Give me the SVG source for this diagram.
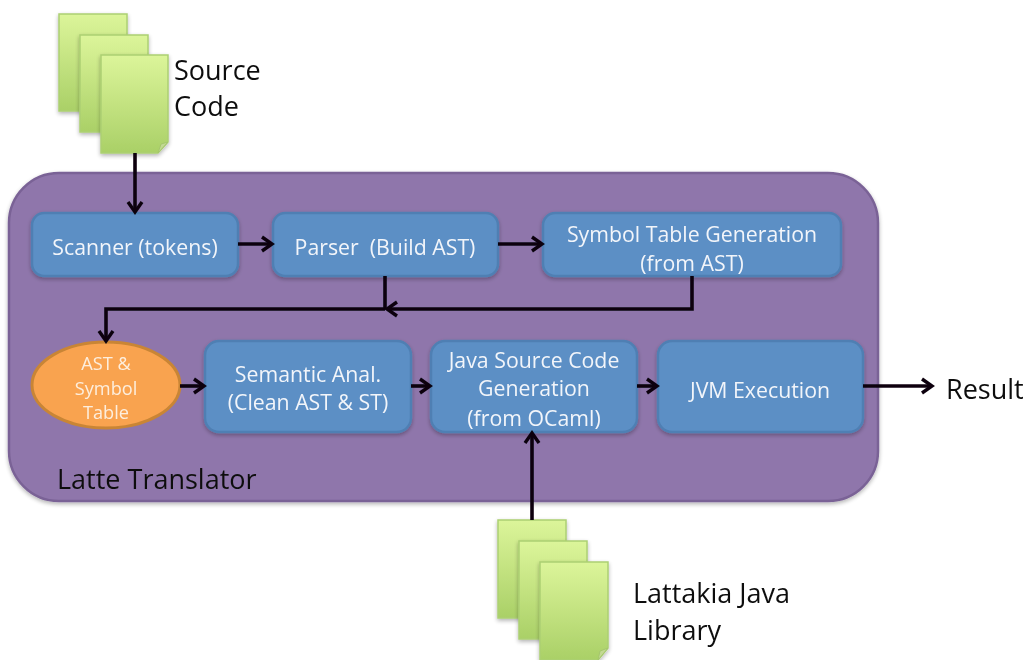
<svg xmlns="http://www.w3.org/2000/svg" width="1027" height="660" viewBox="0 0 1027 660">
<defs>
<linearGradient id="pg" x1="0" y1="0" x2="0" y2="1"><stop offset="0" stop-color="#dcf59a"/><stop offset="1" stop-color="#aad067"/></linearGradient>
<filter id="sh" x="-10%" y="-10%" width="125%" height="125%"><feGaussianBlur in="SourceAlpha" stdDeviation="2"/><feOffset dx="0" dy="2"/><feComponentTransfer><feFuncA type="linear" slope="0.3"/></feComponentTransfer><feMerge><feMergeNode/><feMergeNode in="SourceGraphic"/></feMerge></filter>
<filter id="soft" x="0" y="0" width="100%" height="100%" filterUnits="userSpaceOnUse"><feGaussianBlur stdDeviation="0.55"/></filter>
<marker id="ah" markerUnits="userSpaceOnUse" markerWidth="20" markerHeight="20" refX="13" refY="8" orient="auto" overflow="visible"><path d="M3 1 L13 8 L3 15" fill="none" stroke="#0a0510" stroke-width="3.4"/></marker>
</defs>
<style>
text{font-family:"Open Sans","Noto Sans",sans-serif}
.box{fill:#5b8fc5;stroke:#4f7fb3;stroke-width:2.5;filter:url(#sh)}
.w{fill:#f2f5fa;font-size:21.3px;text-anchor:middle}
.a{fill:#fdeedd;font-size:18.2px;text-anchor:middle}
.k{fill:#111;font-size:27px}
.page{fill:url(#pg);stroke:#acd073;stroke-width:1.5;filter:url(#sh)}
.fold{fill:#c3d993;stroke:#a5c76c;stroke-width:1}
.c{fill:none;stroke:#0a0510;stroke-width:3.6;marker-end:url(#ah)}
.n{fill:none;stroke:#0a0510;stroke-width:3.6}
</style>
<rect width="1027" height="660" fill="#fff"/>
<g filter="url(#soft)">
<g id="translator"><rect x="9" y="173" width="869" height="328" rx="50" fill="#8f76ab" stroke="#7a6296" stroke-width="2.5" filter="url(#sh)"/><text class="k" x="57" y="489">Latte Translator</text></g>
<g id="source-code">
<rect class="page" x="59" y="14" width="68" height="97"/><rect class="page" x="80" y="35" width="68" height="97"/>
<path class="page" d="M101 55H168V142L158 153H101Z"/><path class="fold" d="M158 153L161 144L168 142Z"/>
<text class="k" x="174" y="80">Source</text><text class="k" x="174" y="116">Code</text></g>
<g id="scanner"><rect class="box" x="32" y="213" width="206" height="63" rx="12"/><text class="w" x="135" y="255">Scanner (tokens)</text></g>
<g id="parser"><rect class="box" x="273" y="213" width="225" height="63" rx="12"/><text class="w" x="385" y="255" xml:space="preserve">Parser  (Build AST)</text></g>
<g id="symbol-table-gen"><rect class="box" x="543" y="213" width="298" height="63" rx="12"/><text class="w" x="692" y="242">Symbol Table Generation</text><text class="w" x="692" y="271">(from AST)</text></g>
<g id="ast-symbol"><ellipse cx="106" cy="385" rx="74" ry="43" fill="#f9a350" stroke="#c98536" stroke-width="3"/><text class="a" x="106" y="370">AST &amp;</text><text class="a" x="106" y="395">Symbol</text><text class="a" x="106" y="419">Table</text></g>
<g id="semantic"><rect class="box" x="205" y="341" width="206" height="91" rx="14"/><text class="w" x="308" y="382">Semantic Anal.</text><text class="w" x="308" y="410">(Clean AST &amp; ST)</text></g>
<g id="java-gen"><rect class="box" x="431" y="341" width="206" height="91" rx="14"/><text class="w" x="534" y="368">Java Source Code</text><text class="w" x="534" y="396">Generation</text><text class="w" x="534" y="426">(from OCaml)</text></g>
<g id="jvm"><rect class="box" x="658" y="341" width="205" height="91" rx="14"/><text class="w" x="760" y="398">JVM Execution</text></g>
<g id="result"><text class="k" x="946" y="399">Result</text></g>
<g id="library">
<rect class="page" x="498" y="520" width="68" height="98"/><rect class="page" x="519" y="541" width="68" height="98"/>
<path class="page" d="M540 562H608V648L598 660H540Z"/><path class="fold" d="M598 660L600 651L608 648Z"/>
<text class="k" x="633" y="603">Lattakia Java</text><text class="k" x="633" y="640">Library</text></g>
<g id="connectors">
<path class="c" d="M135 153V212"/>
<path class="c" d="M238 244H272"/>
<path class="c" d="M498 244H542"/>
<path class="n" d="M385 276V309"/>
<path class="c" d="M692 276V309H387"/>
<path class="c" d="M385 309H106V341"/>
<path class="c" d="M180 386H204"/>
<path class="c" d="M411 386H430"/>
<path class="c" d="M637 386H657"/>
<path class="c" d="M863 386H932"/>
<path class="c" d="M532 520V433"/>
</g>
</g>
</svg>
